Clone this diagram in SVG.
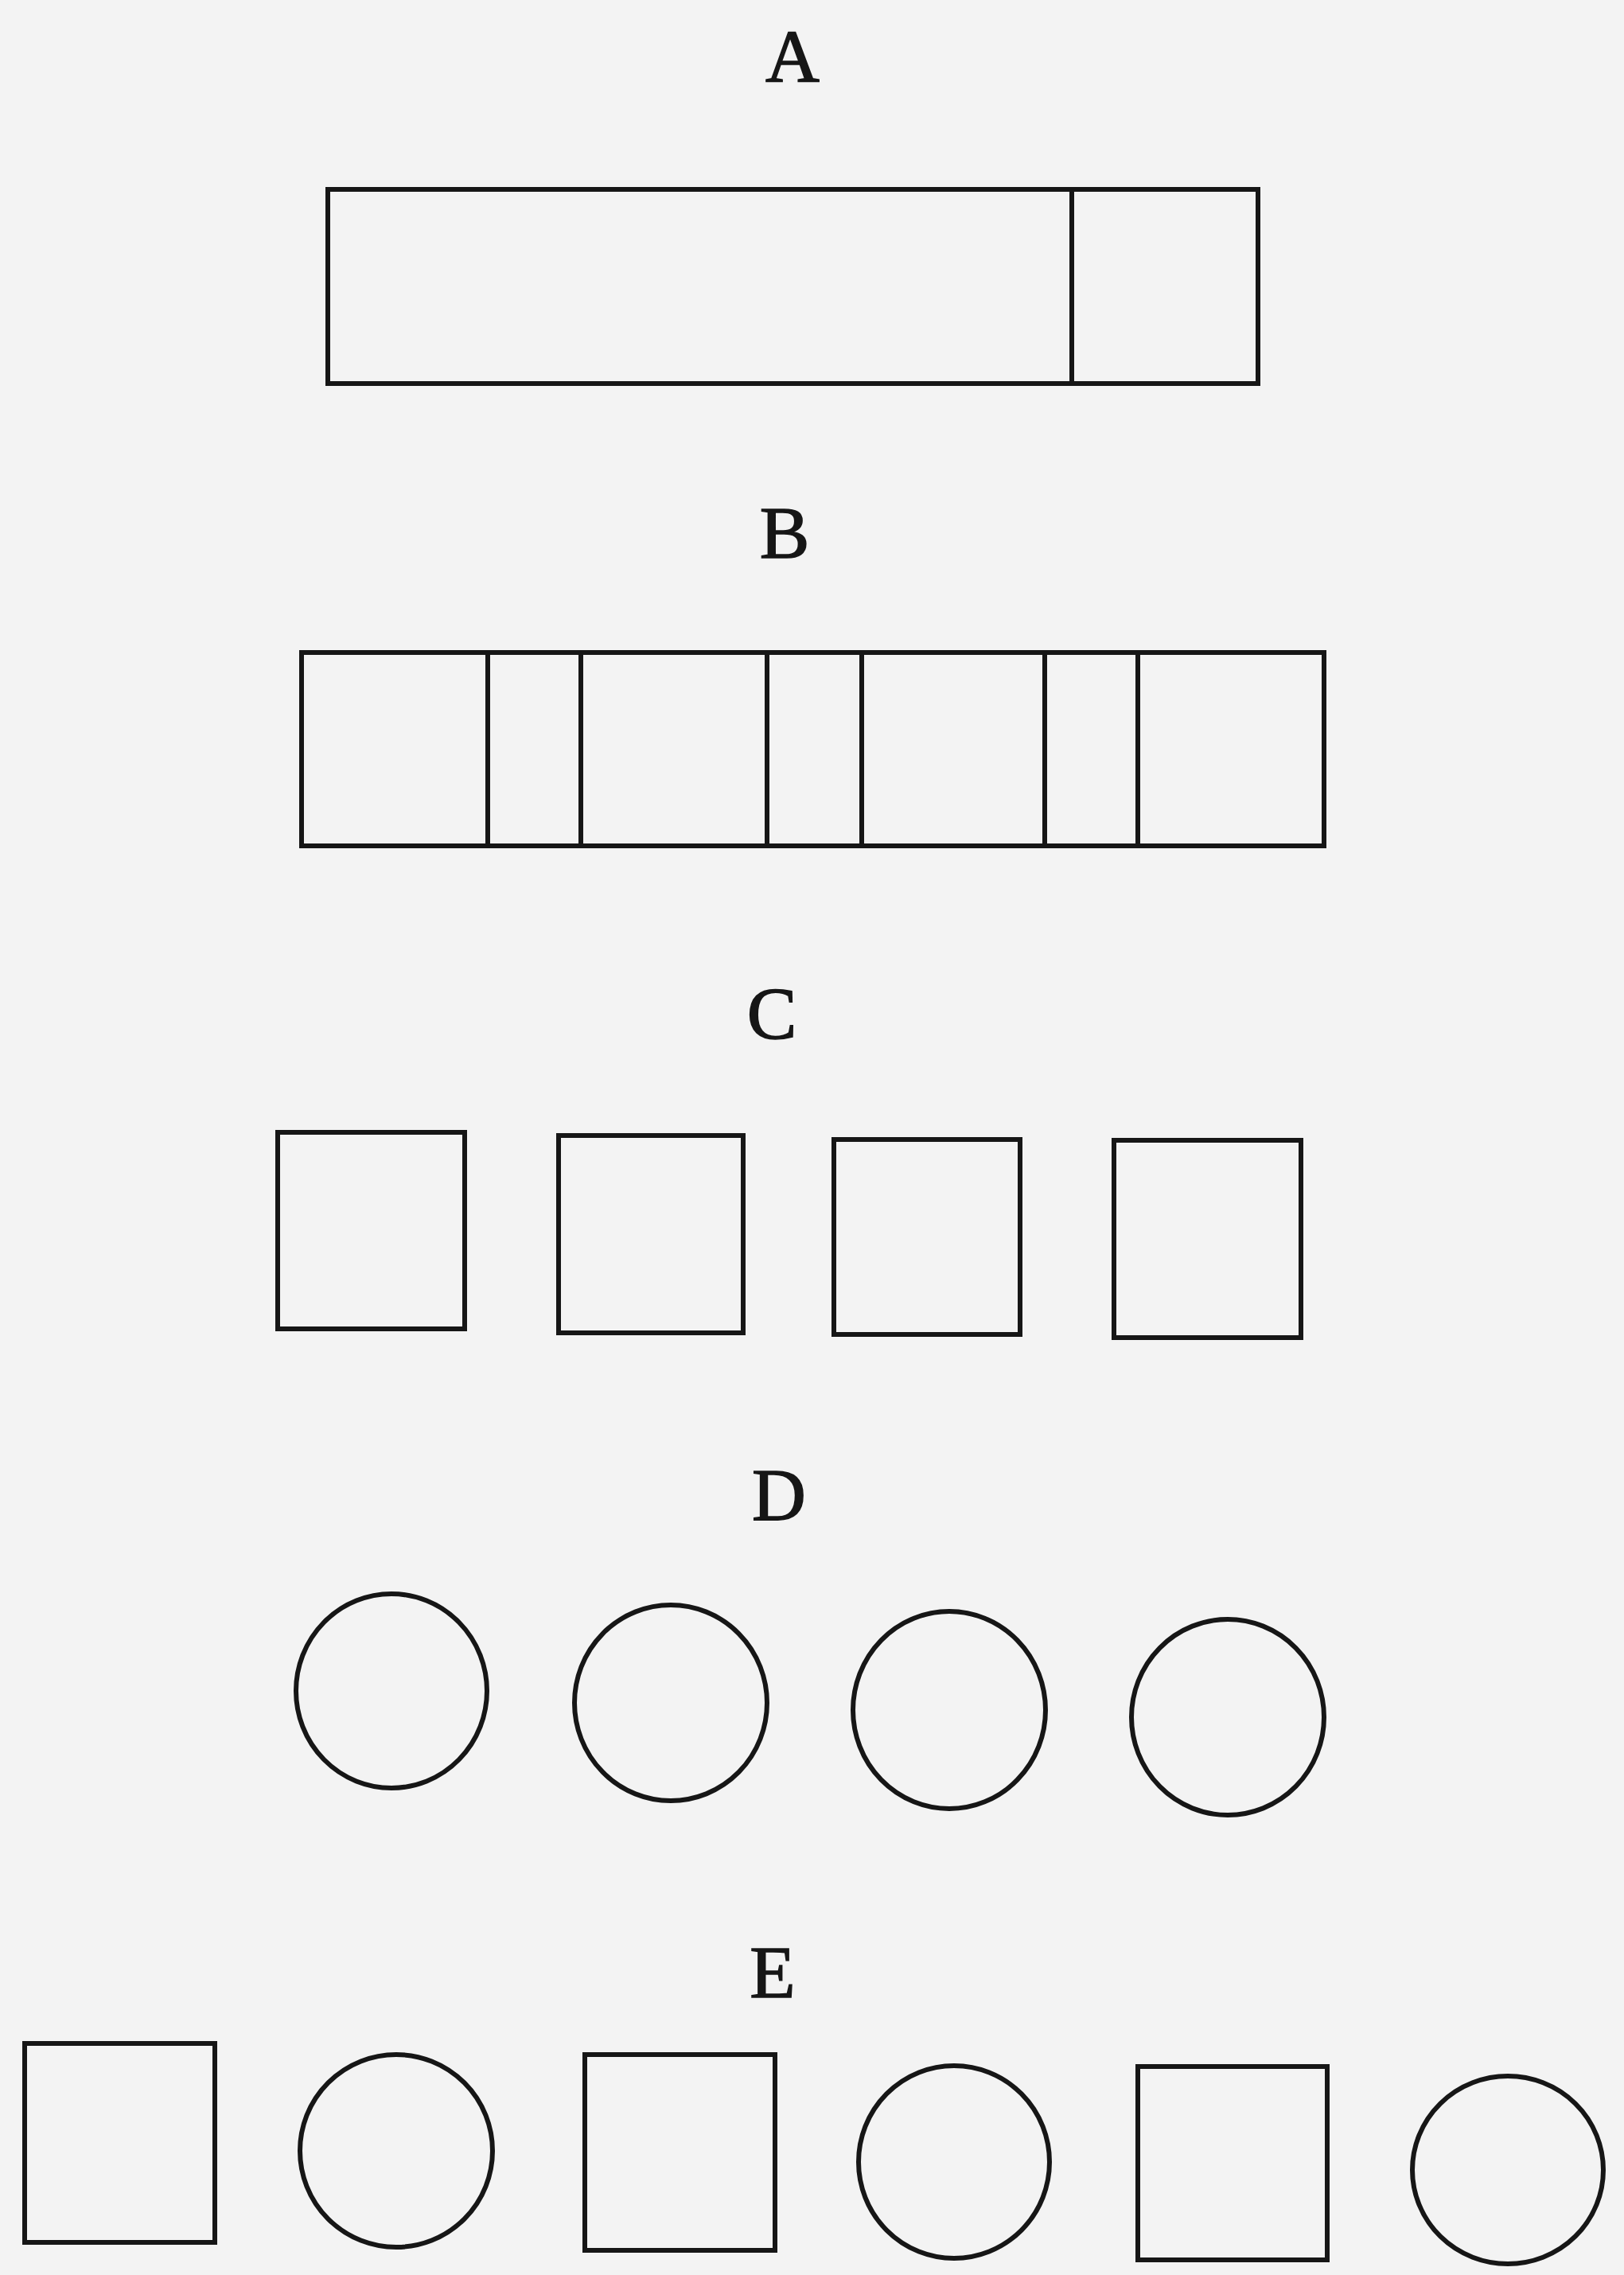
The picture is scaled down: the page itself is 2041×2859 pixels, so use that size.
<svg xmlns="http://www.w3.org/2000/svg" width="2041" height="2859" viewBox="0 0 2041 2859">
<style>
.s{fill:none;stroke:#161616;stroke-width:6}
.l{font-family:"Liberation Serif","Times New Roman",serif;font-size:94px;fill:#161616;stroke:#161616;stroke-width:1.5;text-anchor:middle}
</style>
<rect width="2041" height="2859" fill="#f3f3f3"/>
<g id="label-A"><text class="l" x="996" y="102">A</text></g>
<g id="figure-A">
<rect class="s" x="412" y="238" width="1169" height="244"/>
<line class="s" x1="1347" y1="238" x2="1347" y2="482"/>
</g>
<g id="label-B"><text class="l" x="986" y="701">B</text></g>
<g id="figure-B">
<rect class="s" x="379" y="820" width="1285" height="243"/>
<line class="s" x1="613" y1="820" x2="613" y2="1063"/>
<line class="s" x1="730" y1="820" x2="730" y2="1063"/>
<line class="s" x1="964" y1="820" x2="964" y2="1063"/>
<line class="s" x1="1083" y1="820" x2="1083" y2="1063"/>
<line class="s" x1="1313" y1="820" x2="1313" y2="1063"/>
<line class="s" x1="1430" y1="820" x2="1430" y2="1063"/>
</g>
<g id="label-C"><text class="l" x="970" y="1305">C</text></g>
<g id="figure-C">
<rect class="s" x="349" y="1423" width="235" height="247"/>
<rect class="s" x="702" y="1427" width="232" height="248"/>
<rect class="s" x="1048" y="1432" width="234" height="245"/>
<rect class="s" x="1400" y="1433" width="235" height="248"/>
</g>
<g id="label-D"><text class="l" x="979" y="1910">D</text></g>
<g id="figure-D">
<ellipse class="s" cx="492" cy="2125" rx="120" ry="122"/>
<ellipse class="s" cx="843" cy="2140" rx="121" ry="123"/>
<ellipse class="s" cx="1193" cy="2149" rx="121" ry="124"/>
<ellipse class="s" cx="1543" cy="2158" rx="121" ry="123"/>
</g>
<g id="label-E"><text class="l" x="971" y="2510">E</text></g>
<g id="figure-E">
<rect class="s" x="31" y="2568" width="239" height="250"/>
<ellipse class="s" cx="498" cy="2703" rx="121" ry="121"/>
<rect class="s" x="735" y="2582" width="239" height="246"/>
<ellipse class="s" cx="1199" cy="2717" rx="120" ry="121"/>
<rect class="s" x="1430" y="2597" width="238" height="243"/>
<ellipse class="s" cx="1895" cy="2727" rx="120" ry="118"/>
</g>
</svg>
